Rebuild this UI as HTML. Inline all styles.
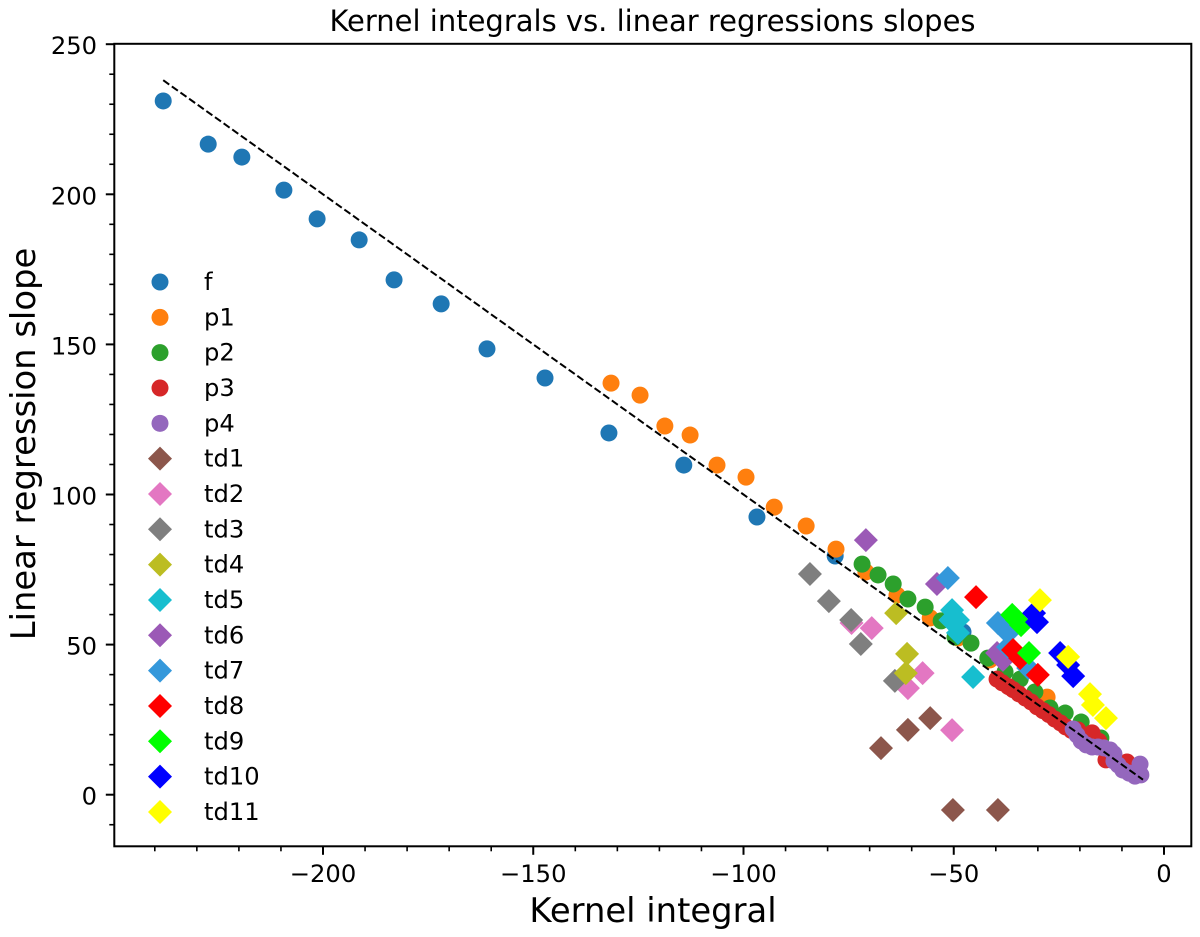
<!DOCTYPE html>
<html>
<head>
<meta charset="utf-8">
<title>Kernel integrals vs. linear regressions slopes</title>
<style>
html,body{margin:0;padding:0;background:#fff;width:1200px;height:937px;overflow:hidden}
svg{display:block}
text{font-family:"DejaVu Sans","Liberation Sans",sans-serif;fill:#000}
</style>
</head>
<body>
<svg id="chart" xmlns="http://www.w3.org/2000/svg" width="1200" height="937" viewBox="0 0 1200 937">
  <rect x="0" y="0" width="1200" height="937" fill="#fff"/>
  <g id="marks"></g>
  <g id="fit"></g>
  <g id="legend"></g>
  <g id="axes"></g>
  <text x="652.5" y="31" font-size="29" text-anchor="middle">Kernel integrals vs. linear regressions slopes</text>
  <text x="653" y="922" font-size="33.8" text-anchor="middle">Kernel integral</text>
  <text transform="translate(35 444) rotate(-90)" font-size="33.8" text-anchor="middle">Linear regression slope</text>
</svg>
<script>
const fX = [-238,-227.3,-219.3,-209.3,-201.4,-191.4,-183.1,-171.9,-161,-147.2,-132,-114.2,-96.8,-78.2,-47.8];
const fY = [231.1,216.7,212.4,201.4,191.8,184.8,171.5,163.5,148.5,138.8,120.5,109.8,92.5,79.5,54.2];
const p1X = [-131.5,-124.6,-118.7,-112.7,-106.3,-99.4,-92.7,-85.1,-78,-70.9,-63.5,-55.6,-49,-41.4,-27.8];
const p1Y = [137.1,133.1,122.8,119.8,109.8,105.8,95.8,89.5,81.8,74.2,66.5,58.9,52.2,44.9,32.5];
const p2X = [-71.8,-68,-64.4,-60.9,-56.8,-53,-49.7,-45.9,-41.9,-37.8,-34.2,-30.7,-27.1,-23.5,-19.7,-15];
const p2Y = [76.8,73.2,70.2,65.2,62.5,57.9,52.5,50.5,45.5,40.9,38.5,34.2,28.9,27.2,24.2,18.9];
const p3X = [-39.7,-38.5,-37,-35.9,-34.5,-33,-31.6,-30.2,-28.8,-27.4,-26,-24.6,-23.4,-22,-20.5,-17.1,-15.5,-13.8,-12.3,-8.8];
const p3Y = [38.5,37.3,36,35,33.6,32.2,30.9,29.3,28,26.7,25.2,23.9,22.6,21.4,21.6,20.6,17.8,11.6,11.5,10.9];
const p4X = [-21.6,-20.7,-19.7,-18.5,-17.1,-15.7,-14.3,-12.8,-11.9,-11.9,-10.9,-9.8,-8.3,-6.9,-5.5,-5.7];
const p4Y = [21.9,19.9,17.9,16.6,15.9,15.9,15.6,14.9,13.6,11.2,9.9,8.2,7.2,6.2,6.6,10.2];
const td1X = [-67.3,-60.9,-55.6,-50.2,-39.5];
const td1Y = [15.5,21.6,25.5,-5.1,-5.1];
const td2X = [-74.3,-69.5,-57.4,-60.9,-50.4];
const td2Y = [57.2,55.5,40.5,35.5,21.5];
const td3X = [-84.2,-79.7,-74.4,-72.1,-64];
const td3Y = [73.5,64.5,58.2,50.2,37.9];
const td4X = [-63.7,-61.1,-61.4];
const td4Y = [60.5,46.9,40.5];
const td5X = [-50.4,-49,-50.8,-49,-45.4];
const td5Y = [61.5,58.2,58.2,53.9,39.2];
const td6X = [-70.9,-54,-39.7,-38.3];
const td6Y = [84.8,70.2,47.2,44.9];
const td7X = [-51.4,-39.5,-37.1,-37.1,-32.3];
const td7Y = [72.2,57.2,53.9,49.2,42.2];
const td8X = [-44.7,-35.9,-34.2,-30];
const td8Y = [65.8,48.2,45.5,39.9];
const td9X = [-36.1,-35,-34,-32.1];
const td9Y = [59.9,58.2,56.5,47.2];
const td10X = [-30.9,-30.2,-24.7,-22.8,-21.6];
const td10Y = [60.5,57.5,47.2,43.2,39.5];
const td11X = [-29.5,-22.8,-17.6,-16.9,-13.8];
const td11Y = [64.8,45.9,33.5,29.9,25.5];
const fitX = [-238,-5];
const fitY = [238,5];
const xTickValues = [-200,-150,-100,-50,0];
const yTickValues = [0,50,100,150,200,250];
const xMinorValues = [-240,-230,-220,-210,-190,-180,-170,-160,-140,-130,-120,-110,-90,-80,-70,-60,-40,-30,-20,-10];
const yMinorValues = [-10,10,20,30,40,60,70,80,90,110,120,130,140,160,170,180,190,210,220,230,240];
const seriesNames = ['f','p1','p2','p3','p4','td1','td2','td3','td4','td5','td6','td7','td8','td9','td10','td11'];
const seriesXs = [fX,p1X,p2X,p3X,p4X,td1X,td2X,td3X,td4X,td5X,td6X,td7X,td8X,td9X,td10X,td11X];
const seriesYs = [fY,p1Y,p2Y,p3Y,p4Y,td1Y,td2Y,td3Y,td4Y,td5Y,td6Y,td7Y,td8Y,td9Y,td10Y,td11Y];
const seriesColors = ['#1f77b4','#ff7f0e','#2ca02c','#d62728','#9467bd','#8c564b','#e377c2','#7f7f7f','#bcbd22','#17becf','#9b59b6','#3498db','#ff0000','#00ff00','#0000ff','#ffff00'];

const NS = 'http://www.w3.org/2000/svg';
const xScale = v => 1164 + v * 4.205;
const yScale = v => 794.7 - v * 3.002;
const PLOT = {left: 114.3, right: 1191.3, top: 43.8, bottom: 846.3};

function make(tag, attrs, parent) {
  const el = document.createElementNS(NS, tag);
  for (const k in attrs) el.setAttribute(k, attrs[k]);
  parent.appendChild(el);
  return el;
}
function drawMarker(parent, cx, cy, color, isCircle) {
  if (isCircle) {
    return make('circle', {cx: cx, cy: cy, r: 8.5, fill: color}, parent);
  }
  const h = 12;
  return make('polygon', {points: `${cx},${cy-h} ${cx+h},${cy} ${cx},${cy+h} ${cx-h},${cy}`, fill: color}, parent);
}

const marks = document.getElementById('marks');
seriesNames.forEach((name, s) => {
  const group = make('g', {}, marks);
  
  
  seriesXs[s].forEach((xv, i) => {
    const m = drawMarker(group, xScale(xv), yScale(seriesYs[s][i]), seriesColors[s], s < 5);
    
    
  });
});

const fit = document.getElementById('fit');
const fitLine = make('line', {x1: xScale(fitX[0]), y1: yScale(fitY[0]), x2: xScale(fitX[1]), y2: yScale(fitY[1]), stroke: '#000', 'stroke-width': 2, 'stroke-dasharray': '7.4 3.2'}, fit);



const legend = document.getElementById('legend');
seriesNames.forEach((name, s) => {
  const cy = 282 + s * 35.33;
  const m = drawMarker(legend, 160, cy, seriesColors[s], s < 5);
  
  
  const t = make('text', {x: 204, y: cy + 8, 'font-size': 24.2}, legend);
  t.textContent = name;
  
  
});

const axes = document.getElementById('axes');
const frame = make('rect', {x: PLOT.left, y: PLOT.top, width: PLOT.right - PLOT.left, height: PLOT.bottom - PLOT.top, fill: 'none', stroke: '#000', 'stroke-width': 2}, axes);



xMinorValues.forEach(v => {
  const l = make('line', {x1: xScale(v), x2: xScale(v), y1: PLOT.bottom, y2: PLOT.bottom + 5, stroke: '#000', 'stroke-width': 1.6}, axes);
  
  
});
yMinorValues.forEach(v => {
  const l = make('line', {x1: PLOT.left - 5, x2: PLOT.left, y1: yScale(v), y2: yScale(v), stroke: '#000', 'stroke-width': 1.6}, axes);
  
  
});
xTickValues.forEach(v => {
  const l = make('line', {x1: xScale(v), x2: xScale(v), y1: PLOT.bottom, y2: PLOT.bottom + 8.5, stroke: '#000', 'stroke-width': 2}, axes);
  
  
  const t = make('text', {x: xScale(v), y: 882, 'font-size': 24.2, 'text-anchor': 'middle'}, axes);
  t.textContent = v < 0 ? '\u2212' + Math.abs(v) : String(v);
  
  
});
yTickValues.forEach(v => {
  const l = make('line', {x1: PLOT.left - 8.5, x2: PLOT.left, y1: yScale(v), y2: yScale(v), stroke: '#000', 'stroke-width': 2}, axes);
  
  
  const t = make('text', {x: 97, y: yScale(v) + 10, 'font-size': 24.2, 'text-anchor': 'end'}, axes);
  t.textContent = String(v);
  
  
});
</script>
</body>
</html>
